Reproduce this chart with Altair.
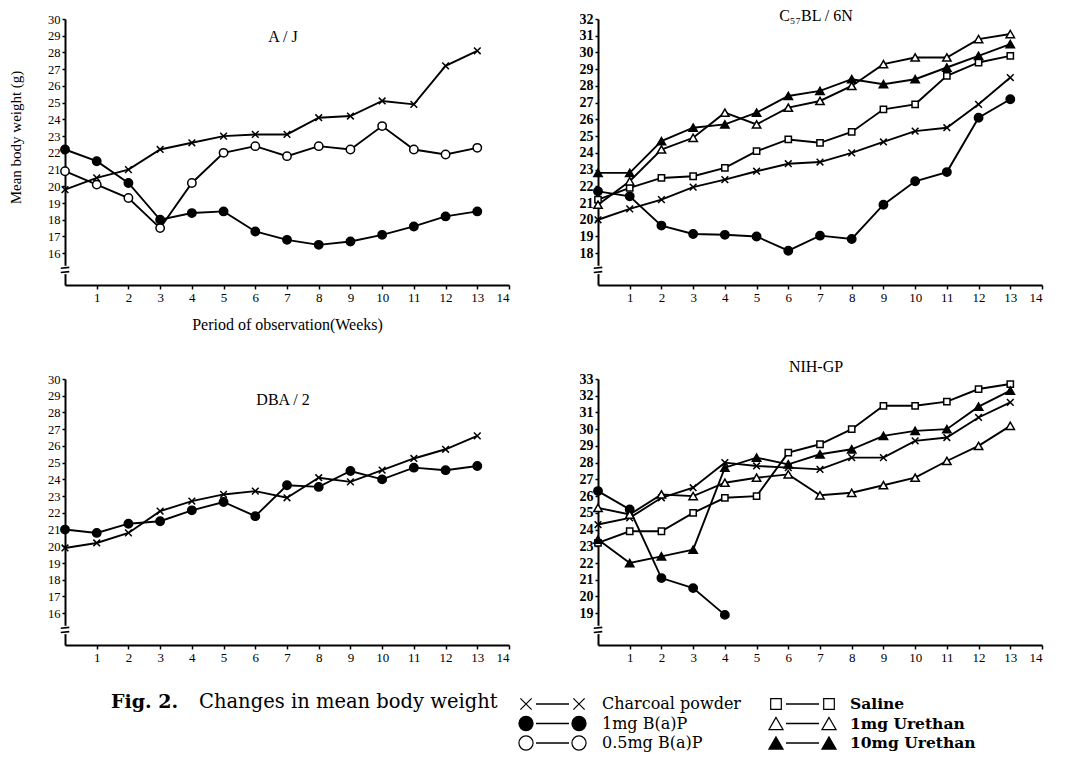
import altair as alt
import pandas as pd

weeks = list(range(14))

series_order = ["Charcoal powder", "1mg B(a)P", "0.5mg B(a)P", "Saline", "1mg Urethan", "10mg Urethan"]
legend_col = [0, 0, 0, 1, 1, 1]
legend_row = [0, 1, 2, 0, 1, 2]

X_PATH = "M-0.8,-0.8L0.8,0.8M-0.8,0.8L0.8,-0.8"
SQ_PATH = "M-0.75,-0.75H0.75V0.75H-0.75Z"
shapes = [X_PATH, "circle", "circle", SQ_PATH, "triangle-up", "triangle-up"]
fills = ["white", "black", "white", "white", "white", "black"]

# ---- A/J ----
aj = {
    "Charcoal powder": [19.8, 20.5, 21.0, 22.2, 22.6, 23.0, 23.1, 23.1, 24.1, 24.2, 25.1, 24.9, 27.2, 28.1],
    "1mg B(a)P": [22.2, 21.5, 20.2, 18.0, 18.4, 18.5, 17.3, 16.8, 16.5, 16.7, 17.1, 17.6, 18.2, 18.5],
    "0.5mg B(a)P": [20.9, 20.1, 19.3, 17.5, 20.2, 22.0, 22.4, 21.8, 22.4, 22.2, 23.6, 22.2, 21.9, 22.3],
}
# ---- C57BL/6N ----
c57 = {
    "Charcoal powder": [20.0, 20.65, 21.2, 21.95, 22.4, 22.9, 23.35, 23.45, 24.0, 24.65, 25.3, 25.5, 26.9, 28.5],
    "1mg B(a)P": [21.7, 21.4, 19.65, 19.15, 19.1, 19.0, 18.15, 19.05, 18.85, 20.9, 22.3, 22.85, 26.1, 27.2],
    "Saline": [21.2, 21.9, 22.5, 22.6, 23.1, 24.1, 24.8, 24.6, 25.25, 26.6, 26.9, 28.6, 29.4, 29.8],
    "1mg Urethan": [20.9, 22.3, 24.2, 24.9, 26.4, 25.7, 26.7, 27.1, 28.0, 29.3, 29.7, 29.7, 30.8, 31.1],
    "10mg Urethan": [22.8, 22.8, 24.7, 25.5, 25.7, 26.4, 27.4, 27.7, 28.4, 28.1, 28.4, 29.1, 29.8, 30.5],
}
# ---- DBA/2 ----
dba = {
    "Charcoal powder": [19.9, 20.2, 20.8, 22.1, 22.7, 23.1, 23.3, 22.9, 24.1, 23.85, 24.55, 25.25, 25.8, 26.6],
    "1mg B(a)P": [21.0, 20.8, 21.35, 21.5, 22.15, 22.65, 21.8, 23.65, 23.55, 24.5, 24.0, 24.7, 24.55, 24.8],
}
# ---- NIH-GP ----
nih = {
    "Charcoal powder": [24.3, 24.7, 25.9, 26.5, 28.0, 27.8, 27.7, 27.6, 28.3, 28.3, 29.3, 29.5, 30.7, 31.6],
    "1mg B(a)P": [26.3, 25.2, 21.1, 20.5, 18.9, None, None, None, None, None, None, None, None, None],
    "Saline": [23.2, 23.9, 23.9, 25.0, 25.9, 26.0, 28.6, 29.1, 30.0, 31.4, 31.4, 31.65, 32.4, 32.7],
    "1mg Urethan": [25.3, 24.9, 26.1, 26.0, 26.8, 27.1, 27.3, 26.05, 26.2, 26.65, 27.1, 28.1, 29.0, 30.2],
    "10mg Urethan": [23.4, 22.0, 22.4, 22.8, 27.7, 28.3, 27.9, 28.5, 28.8, 29.6, 29.9, 30.0, 31.35, 32.3],
}

SERIF = "Liberation Serif"
W, H = 444, 266


def panel(name, data, ymin, ymax, yticks, title_y, first=False, right=False):
    rows = []
    for s, vals in data.items():
        for w, v in zip(weeks, vals):
            if v is not None:
                rows.append({"week": w, "weight": v, "series": s})
    df = pd.DataFrame(rows)
    lab_size = 14 if right else 12.5
    lab_weight = "bold" if right else "normal"
    xaxis_kw = dict(
        values=list(range(1, 15)), tickCount=30, format="d", labelOverlap=False, labelFontSize=13,
    )
    if first:
        xaxis_kw.update(title="Period of observation(Weeks)", titlePadding=12, titleFontSize=16)
    else:
        xaxis_kw.update(title=None)
    x = alt.X(
        "week:Q",
        scale=alt.Scale(domain=[0, 14], nice=False, zero=False),
        axis=alt.Axis(**xaxis_kw),
    )
    yaxis_kw = dict(
        values=yticks, tickCount=30, format="d", labelOverlap=False,
        labelFontSize=lab_size, labelFontWeight=lab_weight,
    )
    if first:
        yaxis_kw.update(title="Mean body weight (g)", titlePadding=24, titleFontSize=15, titleY=118)
    else:
        yaxis_kw.update(title=None)
    y = alt.Y(
        "weight:Q",
        scale=alt.Scale(domain=[ymin, ymax], nice=False, zero=False),
        axis=alt.Axis(**yaxis_kw),
    )
    base = alt.Chart(df)
    lines = base.mark_line(color="black", strokeWidth=1.9).encode(x=x, y=y, detail="series:N")
    pts = base.mark_point(opacity=1, filled=False, stroke="black", strokeWidth=1.5, size=70).encode(
        x=x, y=y,
        shape=alt.Shape("series:N", scale=alt.Scale(domain=series_order, range=shapes), legend=None),
        fill=alt.Fill("series:N", scale=alt.Scale(domain=series_order, range=fills), legend=None),
    )
    brk_df = pd.DataFrame({"week": [0], "weight": [ymin + 0.9]})
    brk_gap = alt.Chart(brk_df).mark_point(
        shape="square", size=70, filled=True, color="white", opacity=1, stroke=None
    ).encode(x="week:Q", y="weight:Q")
    brk_sym = alt.Chart(brk_df).mark_point(
        shape="M-0.9,-0.35L0.9,-0.55M-0.9,0.55L0.9,0.35", size=90, filled=False,
        stroke="black", strokeWidth=1.6, opacity=1
    ).encode(x="week:Q", y="weight:Q")
    title = alt.Chart(pd.DataFrame({"t": [name]})).mark_text(
        font=SERIF, fontSize=16, baseline="middle", align="center", color="black"
    ).encode(text="t:N", x=alt.value(218), y=alt.value(title_y))
    return alt.layer(lines, pts, brk_gap, brk_sym, title).properties(width=W, height=H)


p1 = panel("A / J", aj, 14.1, 30, list(range(16, 31)), 18, first=True)
p2 = panel("C₅₇BL / 6N", c57, 16.1, 32, list(range(18, 33)), -3, right=True)
p3 = panel("DBA / 2", dba, 14.1, 30, list(range(16, 31)), 21)
p4 = panel("NIH-GP", nih, 17.1, 33, list(range(19, 34)), -12, right=True)

grid = alt.concat(p1, p2, p3, p4, columns=2, spacing={"row": 94, "column": 89}, bounds="flush").resolve_scale(
    x="independent", y="independent"
)

# ---- legend / caption ----
leg_df = pd.DataFrame({"series": series_order, "col": legend_col, "row": legend_row})
lx = alt.X("col:Q", scale=alt.Scale(domain=[0, 1], range=[461, 711]), axis=None)
ly = alt.Y("row:Q", scale=alt.Scale(domain=[0, 2], range=[16, 55]), axis=None)
lshape = alt.Shape("series:N", scale=alt.Scale(domain=series_order, range=shapes), legend=None)
lfill = alt.Fill("series:N", scale=alt.Scale(domain=series_order, range=fills), legend=None)
lbase = alt.Chart(leg_df)
l_rule = lbase.mark_rule(color="black", strokeWidth=1.3, xOffset=10, x2Offset=43).encode(x=lx, x2="col:Q", y=ly)
l_p1 = lbase.mark_point(opacity=1, filled=False, stroke="black", strokeWidth=1.2, size=200).encode(
    x=lx, y=ly, shape=lshape, fill=lfill)
l_p2 = lbase.mark_point(opacity=1, filled=False, stroke="black", strokeWidth=1.2, size=200, xOffset=53).encode(
    x=lx, y=ly, shape=lshape, fill=lfill)
l_t0 = lbase.transform_filter("datum.col == 0").mark_text(
    font="DejaVu Serif", fontSize=16, align="left", baseline="middle", dx=76, color="black"
).encode(x=lx, y=ly, text="series:N")
l_t1 = lbase.transform_filter("datum.col == 1").mark_text(
    font="DejaVu Serif", fontSize=15.5, fontWeight="bold", align="left", baseline="middle", dx=74, color="black"
).encode(x=lx, y=ly, text="series:N")
cap_a = alt.Chart(pd.DataFrame({"t": ["Fig. 2."]})).mark_text(
    font="DejaVu Serif", fontSize=19, fontWeight="bold", align="left", baseline="middle", color="black"
).encode(text="t:N", x=alt.value(46), y=alt.value(14))
cap_b = alt.Chart(pd.DataFrame({"t": ["Changes in mean body weight"]})).mark_text(
    font="DejaVu Serif", fontSize=19.5, align="left", baseline="middle", color="black"
).encode(text="t:N", x=alt.value(134), y=alt.value(14))
legend = alt.layer(l_rule, l_p1, l_p2, l_t0, l_t1, cap_a, cap_b).properties(width=960, height=66)

chart = alt.vconcat(grid, legend, spacing=24).properties(
    padding={"left": 0, "top": 0, "right": 5, "bottom": 0}
).configure_view(stroke=None).configure_axis(
    grid=False, labelOverlap=False,
    domainColor="black", domainWidth=2,
    tickColor="black", tickSize=3, tickWidth=1.5,
    labelColor="black", labelFont=SERIF, labelFontSize=13, labelPadding=2,
    titleColor="black", titleFont=SERIF, titleFontSize=13, titleFontWeight="normal",
).configure_axisX(tickSize=4)

chart.save("out.html", embed_options={"renderer": "svg", "actions": False})
